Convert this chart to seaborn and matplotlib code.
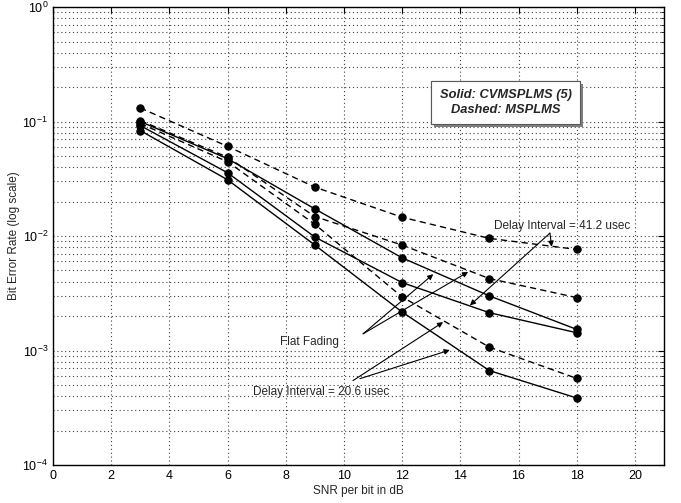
import numpy as np
import pandas as pd
import matplotlib
matplotlib.use("Agg")
import matplotlib.pyplot as plt
import matplotlib.patheffects as pe
from matplotlib.ticker import LogLocator, NullFormatter, MultipleLocator
import seaborn as sns

# ---- data ----
snr = [3, 6, 9, 12, 15, 18]
flat_cvmsplms = [0.100, 0.0474, 0.01725, 0.00645, 0.0030, 0.00153]
flat_msplms = [0.102, 0.0488, 0.0148, 0.00834, 0.00425, 0.0029]
d206_cvmsplms = [0.0834, 0.031, 0.00834, 0.00217, 0.000668, 0.000385]
d206_msplms = [0.096, 0.0446, 0.01267, 0.00294, 0.00107, 0.000571]
d412_cvmsplms = [0.0922, 0.0357, 0.0098, 0.00392, 0.00214, 0.00143]
d412_msplms = [0.1314, 0.0607, 0.02675, 0.01459, 0.00954, 0.00764]

series = [
    ("Flat", "CVMSPLMS", flat_cvmsplms),
    ("Flat", "MSPLMS", flat_msplms),
    ("D20.6", "CVMSPLMS", d206_cvmsplms),
    ("D20.6", "MSPLMS", d206_msplms),
    ("D41.2", "CVMSPLMS", d412_cvmsplms),
    ("D41.2", "MSPLMS", d412_msplms),
]
rows = []
for ch, meth, vals in series:
    for s, v in zip(snr, vals):
        rows.append({"snr": s, "ber": v, "channel": ch, "method": meth,
                     "unit": ch + "_" + meth})
df = pd.DataFrame(rows)

sns.set_style("white")
plt.rcParams["font.family"] = ["Liberation Sans", "DejaVu Sans"]
plt.rcParams["mathtext.fontset"] = "custom"
plt.rcParams["mathtext.rm"] = "Liberation Sans"
plt.rcParams["mathtext.it"] = "Liberation Sans:italic"
plt.rcParams["mathtext.bf"] = "Liberation Sans:bold"

fig = plt.figure(figsize=(6.81, 5.03), dpi=100)
ax = fig.add_axes([0.0778, 0.0755, 0.8972, 0.9105])

sns.lineplot(data=df, x="snr", y="ber", units="unit", estimator=None,
             style="method", dashes={"CVMSPLMS": "", "MSPLMS": (4.5, 3)},
             markers={"CVMSPLMS": "o", "MSPLMS": "o"}, color="k",
             markersize=5.3, markeredgecolor="k", linewidth=1.0,
             legend=False, ax=ax, sort=False, zorder=3)

ax.set_yscale("log")
ax.set_xlim(0, 21)
ax.set_ylim(1e-4, 1)
ax.xaxis.set_major_locator(MultipleLocator(2))
ax.yaxis.set_major_locator(LogLocator(base=10, numticks=10))
ax.yaxis.set_minor_locator(LogLocator(base=10, subs=np.arange(2, 10), numticks=50))
ax.yaxis.set_minor_formatter(NullFormatter())

grid_kw = dict(ls=(0, (1, 2.5)), color="0.25", lw=0.8)
ax.grid(True, which="major", **grid_kw)
ax.yaxis.grid(True, which="minor", **grid_kw)
ax.set_axisbelow(True)
ax.tick_params(which="both", direction="in", top=True, right=True,
               labelsize=9, colors="k")
ax.tick_params(which="major", length=4, width=0.8)
ax.tick_params(which="minor", length=2.5, width=0.6)
for sp in ax.spines.values():
    sp.set_color("k")
    sp.set_linewidth(1.0)

ax.set_xlabel("SNR per bit in dB", fontsize=8.5, labelpad=2)
ax.set_ylabel("Bit Error Rate (log scale)", fontsize=8.5, labelpad=2)

# legend-like box
t = ax.text(0.7406, 0.7915, "Solid: CVMSPLMS (5)\nDashed: MSPLMS",
            transform=ax.transAxes, ha="center", va="center",
            fontsize=9.3, fontweight="bold", fontstyle="italic",
            linespacing=1.3,
            bbox=dict(boxstyle="square,pad=0.65", fc="white", ec="0.35", lw=0.8),
            zorder=5)
t.get_bbox_patch().set_path_effects(
    [pe.withSimplePatchShadow(offset=(2, -2), shadow_rgbFace="0.5", alpha=1.0),
     pe.Normal()])

arrow_kw = dict(arrowstyle="-|>", color="k", lw=0.8, mutation_scale=8,
                shrinkA=0, shrinkB=0)

# Flat fading
ax.text(8.83, 0.00118, "Flat Fading", ha="center", va="center", fontsize=8.5)
ax.annotate("", xy=(13.07, 0.00464), xytext=(10.66, 0.0014), arrowprops=arrow_kw)
ax.annotate("", xy=(14.27, 0.00486), xytext=(10.66, 0.0014), arrowprops=arrow_kw)

# Delay interval 20.6
ax.text(9.21, 0.000437, "Delay Interval = 20.6 usec", ha="center", va="center",
        fontsize=8.5)
ax.annotate("", xy=(13.41, 0.00177), xytext=(10.31, 0.000546), arrowprops=arrow_kw)
ax.annotate("", xy=(13.64, 0.00101), xytext=(10.55, 0.000568), arrowprops=arrow_kw)

# Delay interval 41.2
ax.text(17.49, 0.01224, "Delay Interval = 41.2 usec", ha="center", va="center",
        fontsize=8.5)
ax.annotate("", xy=(17.14, 0.00806), xytext=(17.08, 0.0106), arrowprops=arrow_kw)
ax.annotate("", xy=(14.33, 0.00248), xytext=(17.08, 0.0106), arrowprops=arrow_kw)

fig.savefig("out.png", dpi=100)
